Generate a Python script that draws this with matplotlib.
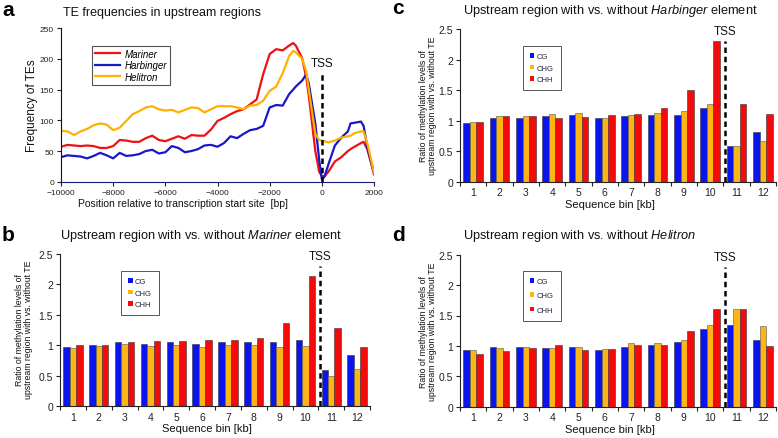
import matplotlib
matplotlib.use("Agg")
import matplotlib.pyplot as plt
from matplotlib.patches import Patch

plt.rcParams['font.family'] = ['Liberation Sans', 'DejaVu Sans']
plt.rcParams['mathtext.fontset'] = 'custom'
plt.rcParams['mathtext.rm'] = 'Liberation Sans'
plt.rcParams['mathtext.it'] = 'Liberation Sans:italic'

# ---------------- Panel a data ----------------
position_bp = [-10000, -9750, -9500, -9250, -9000, -8750, -8500, -8250, -8000, -7750,
               -7500, -7250, -7000, -6750, -6500, -6250, -6000, -5750, -5500, -5250,
               -5000, -4750, -4500, -4250, -4000, -3750, -3500, -3250, -3000, -2750,
               -2500, -2250, -2000, -1750, -1500, -1250, -1100, -1000, -750, -600,
               -500, -250, -100, 0, 100, 250, 500, 750, 1000, 1100,
               1250, 1500, 1600, 1750, 2000]
mariner = [57, 60, 59, 58, 59, 58, 55, 55, 58, 68,
           67, 65, 65, 71, 75, 68, 66, 70, 74, 70,
           76, 75, 75, 85, 99, 104, 110, 115, 118, 126,
           134, 175, 208, 216, 214, 222, 226, 222, 201, 170,
           140, 50, 16, 9, 9, 16, 33, 40, 50, 53,
           57, 63, 65, 52, 12]
harbinger = [40, 43, 42, 41, 38, 42, 47, 43, 38, 47,
             42, 43, 45, 50, 52, 46, 48, 58, 55, 48,
             50, 53, 59, 60, 57, 63, 74, 71, 78, 84,
             86, 91, 121, 125, 124, 143, 150, 155, 165, 175,
             160, 95, 35, 4, 8, 28, 59, 72, 82, 95,
             96, 98, 91, 55, 15]
helitron = [83, 82, 76, 82, 86, 92, 95, 93, 84, 88,
            99, 110, 115, 121, 123, 118, 116, 117, 113, 117,
            121, 120, 113, 118, 123, 123, 123, 121, 118, 124,
            125, 132, 148, 155, 177, 205, 213, 211, 200, 180,
            150, 78, 68, 67, 66, 64, 67, 72, 74, 75,
            79, 82, 82, 62, 15]

# ---------------- Bar panels data ----------------
bins = [1, 2, 3, 4, 5, 6, 7, 8, 9, 10, 11, 12]
mariner_cg = [0.98, 1.00, 1.05, 1.02, 1.05, 1.02, 1.05, 1.06, 1.05, 1.09, 0.60, 0.84]
mariner_chg = [0.96, 0.99, 1.03, 0.99, 1.01, 0.98, 1.01, 1.01, 0.97, 0.99, 0.50, 0.61]
mariner_chh = [1.00, 1.01, 1.05, 1.08, 1.07, 1.09, 1.09, 1.12, 1.37, 2.14, 1.29, 0.98]
harbinger_cg = [0.96, 1.04, 1.04, 1.075, 1.09, 1.04, 1.08, 1.09, 1.10, 1.20, 0.59, 0.82]
harbinger_chg = [0.97, 1.08, 1.075, 1.11, 1.12, 1.05, 1.09, 1.12, 1.16, 1.28, 0.58, 0.66]
harbinger_chh = [0.98, 1.075, 1.07, 1.04, 1.06, 1.10, 1.11, 1.21, 1.50, 2.31, 1.28, 1.11]
helitron_cg = [0.94, 0.98, 0.98, 0.97, 0.98, 0.94, 0.99, 1.02, 1.06, 1.28, 1.34, 1.10]
helitron_chg = [0.93, 0.97, 0.98, 0.96, 0.98, 0.95, 1.04, 1.04, 1.09, 1.34, 1.61, 1.32]
helitron_chh = [0.86, 0.92, 0.96, 1.01, 0.93, 0.95, 1.01, 1.02, 1.24, 1.61, 1.61, 1.00]

W, H = 778, 439
fig = plt.figure(figsize=(W / 100, H / 100), dpi=100)


def ax_px(left, top, right, bottom):
    return fig.add_axes([left / W, 1 - bottom / H, (right - left) / W, (bottom - top) / H])


def ftext(x, y, s, **kw):
    fig.text(x / W, 1 - y / H, s, **kw)


TXT = '#111111'
C_BLUE = '#0a14ee'
C_ORANGE = '#fdb515'
C_RED = '#f50a0a'

# ---------------- Panel a ----------------
axa = ax_px(61, 29.3, 374, 182.7)
axa.plot(position_bp, mariner, color='#ee1111', lw=1.6, label='Mariner')
axa.plot(position_bp, harbinger, color='#1818c8', lw=1.6, label='Harbinger')
axa.plot(position_bp, helitron, color='#ffb000', lw=1.6, label='Helitron')
axa.set_xlim(-10000, 2000)
axa.set_ylim(0, 250)
axa.set_xticks(range(-10000, 2001, 2000))
axa.set_yticks(range(0, 251, 50))
axa.tick_params(axis='both', labelsize=6, direction='out', length=3, width=0.8,
                colors='#222222', pad=2)
for s in ['top', 'right']:
    axa.spines[s].set_visible(False)
axa.spines['bottom'].set_color('#1a1a80')
axa.spines['left'].set_color('#111111')
axa.plot([0, 0], [0, 179], ls=(0, (2.2, 1.5)), color='black', lw=1.8)
axa.text(0, 193, 'TSS', ha='center', va='center', fontsize=8.5, color=TXT)
leg = axa.legend(loc='upper left', bbox_to_anchor=(0.099, 0.885), borderaxespad=0,
                 prop={'style': 'italic', 'size': 7}, handlelength=2.6, handletextpad=0.5,
                 labelspacing=0.15, borderpad=0.3, fancybox=False, framealpha=1)
leg.get_frame().set_edgecolor('#555555')
leg.get_frame().set_linewidth(0.8)
axa.set_ylabel('Frequency of TEs', fontsize=8.5, color=TXT, labelpad=1)
axa.set_xlabel('Position relative to transcription start site  [bp]', fontsize=7.5,
               color=TXT, labelpad=2, x=0.39)


# ---------------- Bar panels ----------------
def bar_panel(rect, cg, chg, chh, leg_anchor, leg_space):
    ax = ax_px(*rect)
    w = 0.25
    xs = [b - w for b in bins]
    ax.bar(xs, cg, width=w, color=C_BLUE, edgecolor='#333333', linewidth=0.4)
    ax.bar(bins, chg, width=w, color=C_ORANGE, edgecolor='#555555', linewidth=0.4)
    ax.bar([b + w for b in bins], chh, width=w, color=C_RED, edgecolor='#333333', linewidth=0.4)
    ax.set_xlim(0.5, 12.5)
    ax.set_ylim(0, 2.5)
    ax.set_yticks([0, 0.5, 1, 1.5, 2, 2.5])
    ax.set_yticklabels(['0', '0.5', '1', '1.5', '2', '2.5'])
    ax.set_xticks(bins)
    ax.set_xticks([b + 0.5 for b in [0] + bins], minor=True)
    ax.tick_params(axis='x', which='major', length=0, labelsize=7.5, colors='#222222', pad=4)
    ax.tick_params(axis='x', which='minor', length=3, width=0.8, direction='out', colors='#222222')
    ax.tick_params(axis='y', labelsize=7.5, length=3, width=0.8, direction='out',
                   colors='#222222', pad=2)
    for s in ['top', 'right']:
        ax.spines[s].set_visible(False)
    ax.spines['left'].set_color('#222222')
    ax.spines['bottom'].set_color('#222222')
    ax.plot([10.55, 10.55], [0, 2.3], ls=(0, (2.2, 1.5)), color='black', lw=1.8, clip_on=False)
    ax.text(10.55, 2.46, 'TSS', ha='center', va='center', fontsize=8.5, color=TXT)
    handles = [Patch(facecolor=C_BLUE, edgecolor='none', label='CG'),
               Patch(facecolor=C_ORANGE, edgecolor='none', label='CHG'),
               Patch(facecolor=C_RED, edgecolor='none', label='CHH')]
    lg = ax.legend(handles=handles, loc='upper left', bbox_to_anchor=leg_anchor,
                   borderaxespad=0, fontsize=5.5, handlelength=0.6, handleheight=0.6,
                   handletextpad=0.3, labelspacing=leg_space, borderpad=0.9,
                   fancybox=False, framealpha=1)
    lg.get_frame().set_edgecolor('#555555')
    lg.get_frame().set_linewidth(0.7)
    for t in lg.get_texts():
        t.set_color('#222244')
    ax.set_xlabel('Sequence bin [kb]', fontsize=8, color=TXT, labelpad=1, x=0.475)
    return ax


bar_panel((60, 255, 370, 407.3), mariner_cg, mariner_chg, mariner_chh, (0.197, 0.888), 0.6)
bar_panel((460, 30, 776, 182.7), harbinger_cg, harbinger_chg, harbinger_chh, (0.199, 0.889), 0.6)
bar_panel((460, 255.7, 776, 407.7), helitron_cg, helitron_chg, helitron_chh, (0.199, 0.893), 0.95)

ylab = 'Ratio of methylation levels of\nupstream region with vs. without TE'
ftext(24, 330, ylab, rotation=90, ha='center', va='center', fontsize=6.3, color=TXT,
      linespacing=1.05)
ftext(428, 106, ylab, rotation=90, ha='center', va='center', fontsize=6.3, color=TXT,
      linespacing=1.05)
ftext(428, 332, ylab, rotation=90, ha='center', va='center', fontsize=6.3, color=TXT,
      linespacing=1.05)

# titles
ftext(63, 13, 'TE frequencies in upstream regions', ha='left', va='center', fontsize=9, color=TXT)
ftext(60, 236, r'Upstream region with vs. without $\mathit{Mariner}$ element', ha='left',
      va='center', fontsize=9.2, color=TXT)
ftext(463, 11, r'Upstream region with vs. without $\mathit{Harbinger}$ element', ha='left',
      va='center', fontsize=9.2, color=TXT)
ftext(463, 236, r'Upstream region with vs. without $\mathit{Helitron}$', ha='left',
      va='center', fontsize=9.2, color=TXT)

# panel letters
ftext(2, 10, 'a', ha='left', va='center', fontsize=15, fontweight='bold', color='black')
ftext(2, 236, 'b', ha='left', va='center', fontsize=15, fontweight='bold', color='black')
ftext(392, 9, 'c', ha='left', va='center', fontsize=15, fontweight='bold', color='black')
ftext(392, 236, 'd', ha='left', va='center', fontsize=15, fontweight='bold', color='black')

fig.savefig('out.png', dpi=100)
